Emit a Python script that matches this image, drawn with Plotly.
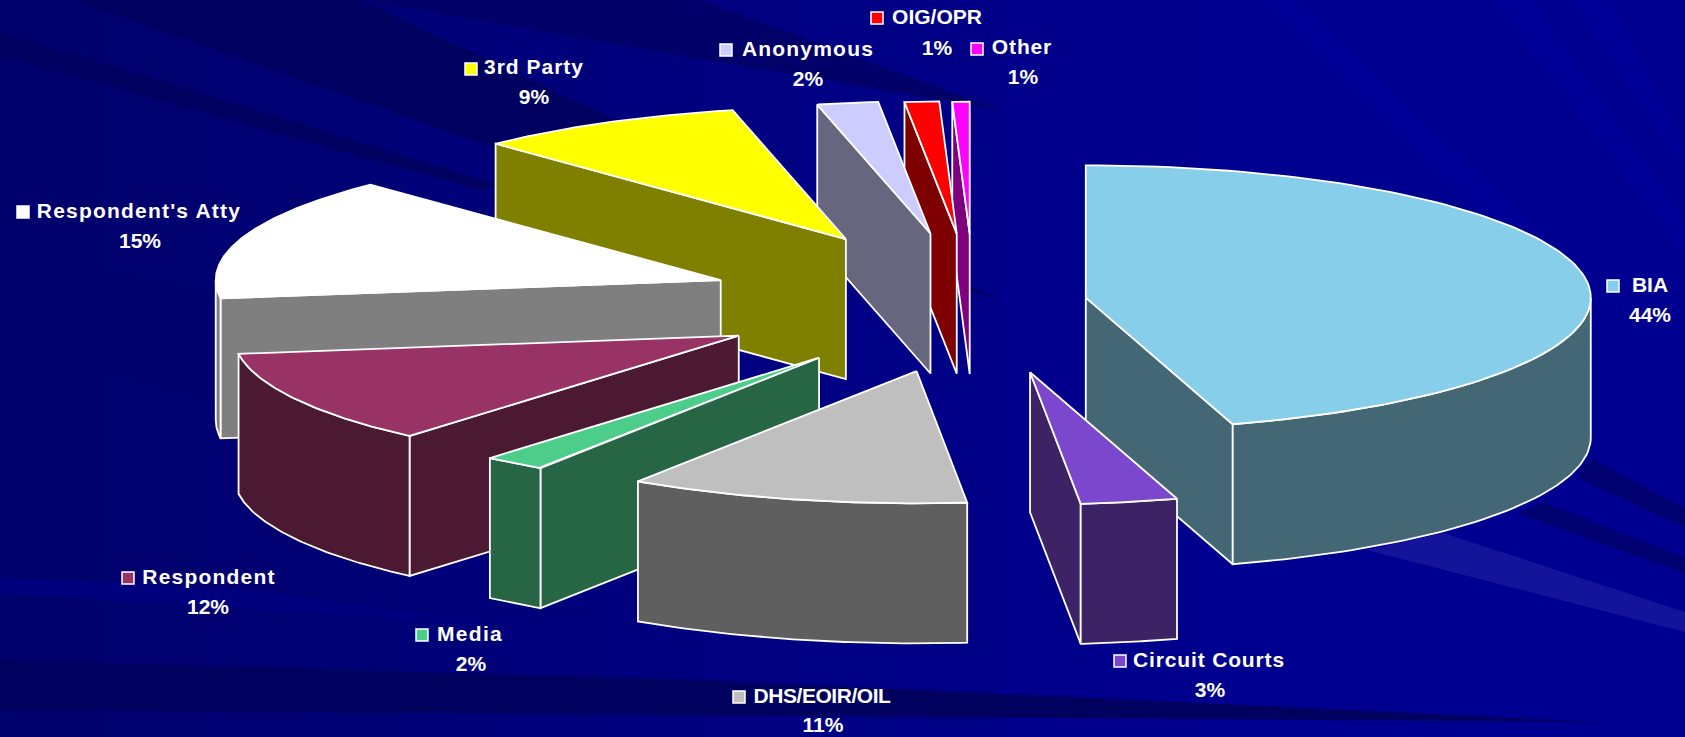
"""
Exploded 3D pie of complaint sources, drawn as projected polygons on a pixel-sized axis pair.
"""
import json

import numpy as np
import plotly.graph_objects as go

# slice data, clockwise from 12 o'clock
categories = ["BIA", "Circuit Courts", "DHS/EOIR/OIL", "Media", "Respondent",
              "Respondent's Atty", "3rd Party", "Anonymous", "OIG/OPR", "Other"]
# slice sizes as drawn (the chart's printed labels are rounded differently)
shares = [45.3, 3.1, 10.9, 2.0, 11.5, 15.0, 8.6, 1.95, 1.1, 0.55]
percent_labels = ["44%", "3%", "11%", "2%", "12%", "15%", "9%", "2%", "1%", "1%"]
colors = ["#87CEEB", "#7B47CC", "#BFBFBF", "#4DCD8A", "#993366",
          "#FFFFFF", "#FFFF00", "#CCCCFF", "#FF0000", "#FF00FF"]

# explosion of each slice, and a small vertical correction
pulls = [113, 285, 240, 257, 268, 268, 269, 265, 250, 248]
lifts = [0, -3, 8, 2, 0, 1, -1, 0, -3, -3]

# back to front
draw_order = ["Other", "OIG/OPR", "Anonymous", "3rd Party", "Respondent's Atty",
              "Respondent", "Media", "DHS/EOIR/OIL", "BIA", "Circuit Courts"]

# pie projection
CX, CY = 974, 302
RADIUS = 505
TILT = 0.262
DEPTH = 140

# legend text positions
key_x = [1613, 1120, 739, 422, 128, 23, 471, 726, 877, 977]
key_y = [286, 661, 697, 635, 578, 212, 69, 50, 18, 49]
name_x = [1650, 1209, 822, 470, 209, 139, 534, 808, 937, 1022]
name_y = [287, 662, 698, 636, 579, 213, 69, 51, 19, 49]
pct_x = [1650, 1210, 823, 471, 208, 140, 534, 808, 937, 1023]
pct_y = [317, 692, 727, 666, 609, 243, 99, 81, 50, 79]
letter_spacing = [0, 0.85, -0.45, 1.3, 1.2, 1.2, 1.0, 1.2, 0, 0.85]

# background streaks: (colour, path)
streaks = [
    ("#000060", "M75,0 L360,0 L1000,300 L500,150 Z"),
    ("#000060", "M0,32 L0,55 L480,190 L500,185 Z"),
    ("#000068", "M360,0 L700,0 L1000,110 Z"),
    ("#00006c", "M0,247 L0,340 L210,400 L210,293 Z"),
    ("#00005e", "M0,660 L0,710 L1600,722 L1200,703 L700,680 Z"),
    ("#00007f", "M0,577 L0,593 L500,625 L250,590 Z"),
    ("#14149a", "M1367,550 L1443,533 L1685,612 L1685,632 Z"),
    ("#000070", "M1517,513 L1543,502 L1685,558 L1685,573 Z"),
    ("#000070", "M1577,478 L1590,458 L1685,508 L1685,527 Z"),
    ("#000097", "M1262,0 L1297,0 L1600,290 L1560,290 Z"),
    ("#000097", "M1493,0 L1533,0 L1685,220 L1685,256 Z"),
    ("#000097", "M1572,0 L1611,0 L1685,150 L1685,170 Z"),
]


def half(color):
    rgb = [int(color[i:i + 2], 16) // 2 for i in (1, 3, 5)]
    return "#%02x%02x%02x" % tuple(rgb)


def rim(cx, cy, t):
    return cx + RADIUS * np.sin(t), cy - RADIUS * TILT * np.cos(t)


def add_face(fig, x, y, fill):
    fig.add_trace(go.Scatter(
        x=x, y=y, mode="lines", fill="toself", fillcolor=fill,
        line=dict(color="white", width=1.8), hoverinfo="skip", showlegend=False
    ))


def add_wall(fig, x, y, fill):
    # extrude a top edge straight down
    x = np.asarray(x, dtype=float)
    y = np.asarray(y, dtype=float)
    add_face(fig, np.r_[x, x[::-1], x[0]], np.r_[y, y[::-1] + DEPTH, y[0]], fill)


fractions = np.array(shares) / sum(shares)
ends = np.cumsum(fractions) * 2 * np.pi
starts = np.r_[0, ends[:-1]]

fig = go.Figure()

for name in draw_order:
    i = categories.index(name)
    t0, t1 = starts[i], ends[i]
    mid = (t0 + t1) / 2
    ax = CX + pulls[i] * np.sin(mid)
    ay = CY - pulls[i] * TILT * np.cos(mid) + lifts[i]
    side = half(colors[i])

    # radial walls that face the viewer
    if np.sin(t0) < 0:
        x0, y0 = rim(ax, ay, t0)
        add_wall(fig, [ax, x0], [ay, y0], side)
    if np.sin(t1) > 0:
        x1, y1 = rim(ax, ay, t1)
        add_wall(fig, [ax, x1], [ay, y1], side)

    # outer wall, front half only
    lo, hi = max(t0, np.pi / 2), min(t1, 3 * np.pi / 2)
    if hi > lo:
        xs, ys = rim(ax, ay, np.linspace(lo, hi, 60))
        add_wall(fig, xs, ys, side)

    # top face
    xs, ys = rim(ax, ay, np.linspace(t0, t1, 120))
    add_face(fig, np.r_[ax, xs, ax], np.r_[ay, ys, ay], colors[i])

# legend keys and labels
fig.add_trace(go.Scatter(
    x=key_x, y=key_y, mode="markers", hoverinfo="skip", showlegend=False,
    marker=dict(symbol="square", size=12, color=colors, line=dict(color="white", width=1.5))
))
fig.add_trace(go.Scatter(
    x=name_x, y=name_y, mode="text", text=categories, hoverinfo="skip", showlegend=False,
    textfont=dict(family="Liberation Sans", size=21, color="white", weight="bold")
))
fig.add_trace(go.Scatter(
    x=pct_x, y=pct_y, mode="text", text=percent_labels, hoverinfo="skip", showlegend=False,
    textfont=dict(family="Liberation Sans", size=21, color="white", weight="bold")
))

# background darkens towards the left in steps
shapes = [dict(type="rect", x0=0, x1=x1, y0=0, y1=737, fillcolor="rgba(0,0,0,0.018)",
               line_width=0, layer="below") for x1 in range(100, 1300, 100)]
shapes += [dict(type="path", path=p, fillcolor=c, line_width=0, layer="below") for c, p in streaks]

fig.update_layout(
    width=1685, height=737,
    margin=dict(l=0, r=0, t=0, b=0),
    paper_bgcolor="#000090",
    plot_bgcolor="#000090",
    xaxis=dict(range=[0, 1685], visible=False, fixedrange=True),
    yaxis=dict(range=[737, 0], visible=False, fixedrange=True),
    shapes=shapes,
)

# drop the page margin, and loosen the labels the way the original is spaced
spacing = json.dumps(dict(zip(categories, letter_spacing)))
post_script = """
document.body.style.margin = '0';
document.body.style.overflow = 'hidden';
var spacing = %s;
document.querySelectorAll('.textpoint text').forEach(function (t) {
    if (t.textContent in spacing) t.style.letterSpacing = spacing[t.textContent] + 'px';
});
""" % spacing

fig.write_html("out.html", config={"displayModeBar": False}, post_script=post_script)
